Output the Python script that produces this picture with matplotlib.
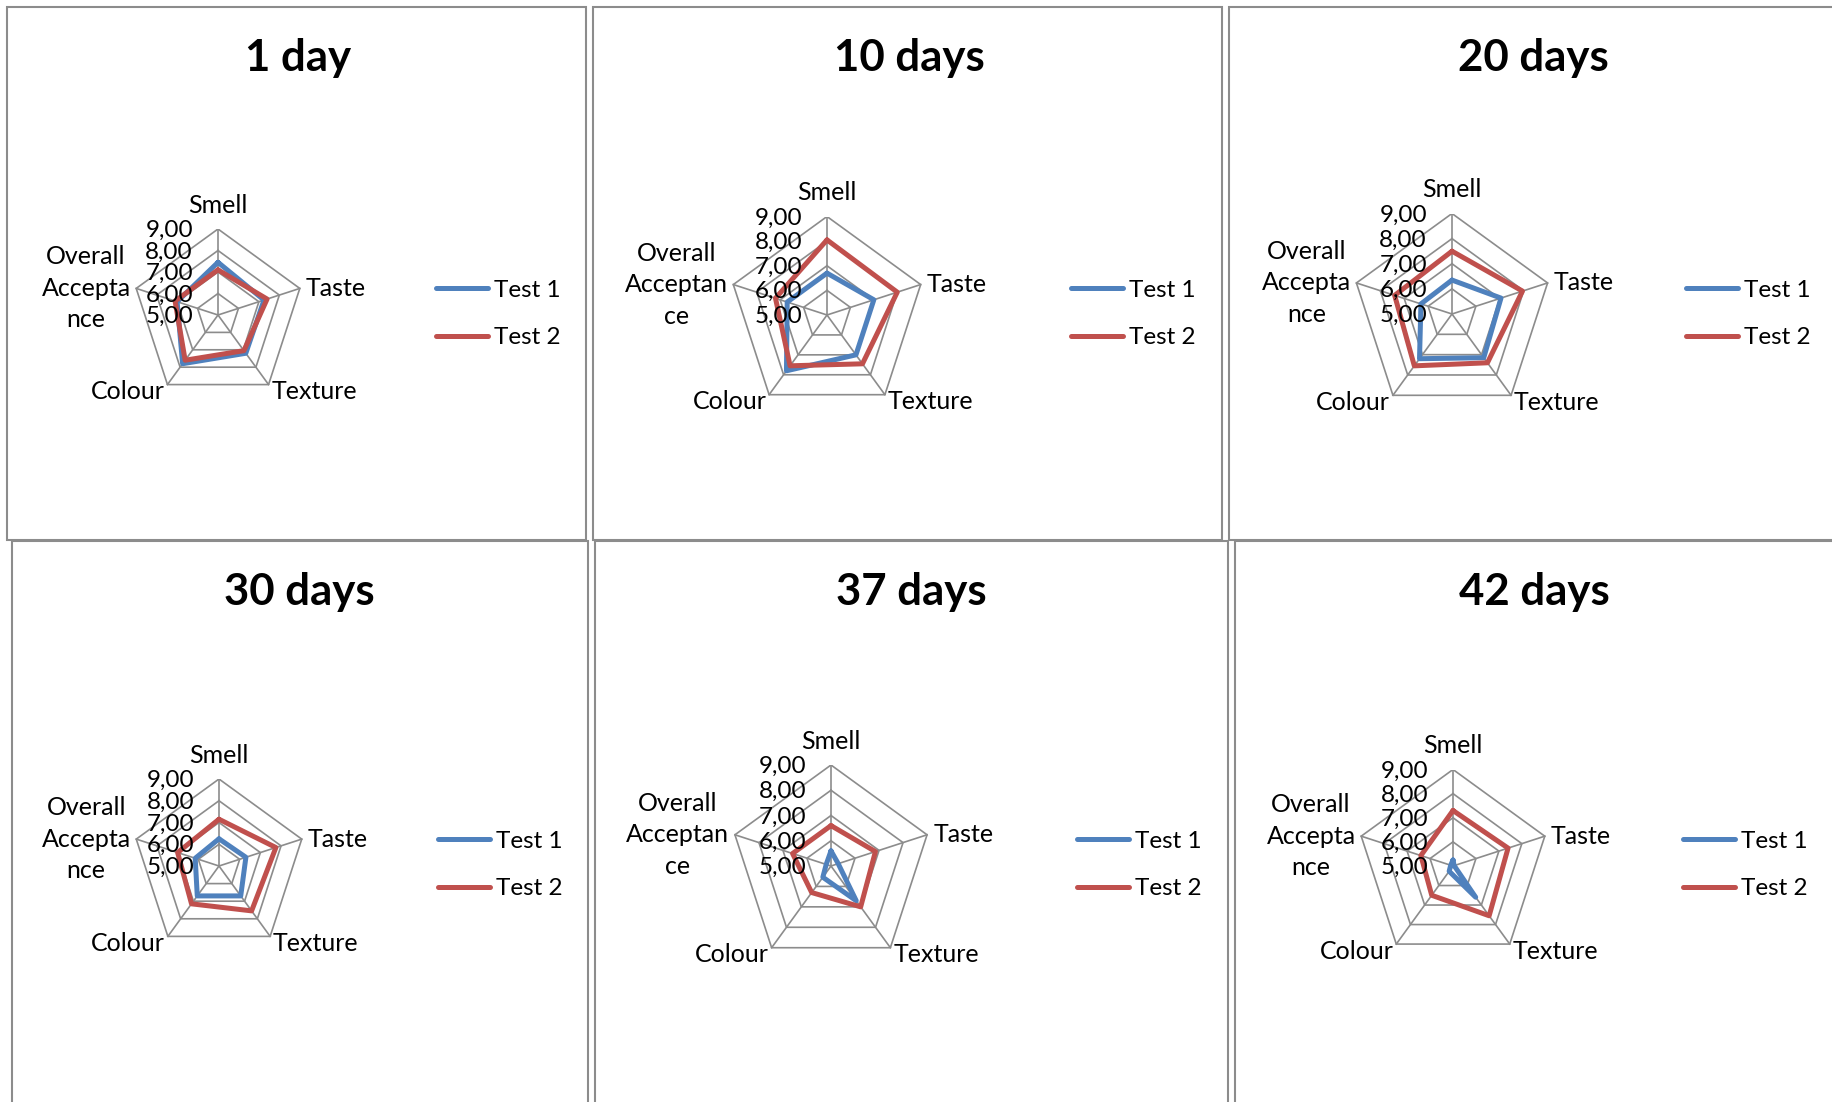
import matplotlib
matplotlib.use("Agg")
import matplotlib.pyplot as plt
from matplotlib.patches import Rectangle
import numpy as np

plt.rcParams['font.family'] = ['Lato', 'DejaVu Sans']

# sensory scores per storage time (scale 5..9)
attributes = ["Smell", "Taste", "Texture", "Colour", "Overall Acceptance"]
titles = ["1 day", "10 days", "20 days", "30 days", "37 days", "42 days"]
test1 = [
    [7.45, 7.25, 7.20, 7.80, 7.00],
    [6.70, 7.00, 7.00, 7.80, 6.70],
    [6.35, 7.05, 7.15, 7.20, 6.30],
    [6.25, 6.30, 6.70, 6.70, 6.15],
    [5.60, 5.30, 6.70, 5.55, 5.20],
    [5.25, 5.05, 6.60, 5.27, 5.10],
]
test2 = [
    [7.10, 7.40, 7.05, 7.60, 7.10],
    [8.05, 8.00, 7.45, 7.55, 7.20],
    [7.50, 7.95, 7.40, 7.55, 7.40],
    [7.15, 7.75, 7.55, 7.15, 7.00],
    [6.60, 6.85, 7.00, 6.30, 6.60],
    [7.30, 7.40, 7.55, 6.50, 6.40],
]
ring_values = [5, 6, 7, 8, 9]
ring_labels = ["5,00", "6,00", "7,00", "8,00", "9,00"]
# how the long category name wraps in each chart
overall_wrap = ["Overall\nAccepta\nnce", "Overall\nAcceptan\nce", "Overall\nAccepta\nnce",
                "Overall\nAccepta\nnce", "Overall\nAcceptan\nce", "Overall\nAccepta\nnce"]

W, H = 1832, 1102
BLUE = "#4F81BD"
RED = "#C0504D"
GRID = "#8C8C8C"

# pixel layout: panel boxes, radar centre/radius, title and legend positions
panels = [(7, 7, 586, 540), (593, 7, 1222, 540), (1229, 7, 1845, 540),
          (12, 541, 588, 1110), (595, 541, 1228, 1110), (1235, 541, 1845, 1110)]
centers = [(218, 315), (827, 315), (1452, 314), (219, 866), (831, 866), (1453, 866)]
radii = [86, 98.5, 100.5, 87, 101, 96.5]
title_pos = [(298, 58), (909, 58), (1533, 58), (299, 592), (911, 592), (1534, 592)]
legend_pos = [(436, 314), (1071, 314), (1686, 314), (438, 865), (1077, 865), (1683, 865)]


def fx(px):
    return px / W


def fy(py):
    return 1 - py / H


fig = plt.figure(figsize=(W / 100, H / 100), dpi=100)

for x0, y0, x1, y1 in panels:
    fig.add_artist(Rectangle((fx(x0), fy(y1)), (x1 - x0) / W, (y1 - y0) / H,
                             transform=fig.transFigure, fill=False,
                             ec=GRID, lw=1.5))

n = len(attributes)
theta = np.pi / 2 - np.arange(n) * 2 * np.pi / n
rmin = ring_values[0]
rmax = ring_values[-1]

for i in range(6):
    cx, cy = centers[i]
    R = radii[i]
    ax = fig.add_axes([fx(cx - R), fy(cy + R), 2 * R / W, 2 * R / H])
    ax.set_xlim(-(rmax - rmin), rmax - rmin)
    ax.set_ylim(-(rmax - rmin), rmax - rmin)
    ax.axis("off")

    # pentagon rings and spokes
    closed = np.append(theta, theta[0])
    for rv in ring_values[1:]:
        r = rv - rmin
        ax.plot(r * np.cos(closed), r * np.sin(closed), color=GRID, lw=1.2, zorder=1)
    for t in theta:
        ax.plot([0, (rmax - rmin) * np.cos(t)], [0, (rmax - rmin) * np.sin(t)],
                color=GRID, lw=1.2, zorder=1)

    # the two test series
    for vals, col, lab in [(test1[i], BLUE, "Test 1"), (test2[i], RED, "Test 2")]:
        r = np.array(vals + vals[:1]) - rmin
        ax.plot(r * np.cos(closed), r * np.sin(closed), color=col, lw=3.6,
                solid_capstyle="round", solid_joinstyle="round", label=lab, zorder=3)

    # value labels along the Smell axis
    for rv, txt in zip(ring_values, ring_labels):
        ax.annotate(txt, xy=(0, rv - rmin), xytext=(-18, -1), textcoords="offset points",
                    ha="right", va="center", fontsize=17.5, annotation_clip=False, zorder=4)

    # category labels at the outer vertices
    names = attributes[:4] + [overall_wrap[i]]
    offsets = [(0, 17), (4.5, 0), (2, -5), (-2, -5), (-4, 0)]
    aligns = [("center", "center"), ("left", "center"), ("left", "center"),
              ("right", "center"), ("right", "center")]
    rr = rmax - rmin
    for k in range(n):
        ax.annotate(names[k], xy=(rr * np.cos(theta[k]), rr * np.sin(theta[k])),
                    xytext=offsets[k], textcoords="offset points",
                    ha=aligns[k][0], va=aligns[k][1], fontsize=18,
                    multialignment="center", linespacing=1.45, annotation_clip=False)

    fig.text(fx(title_pos[i][0]), fy(title_pos[i][1]), titles[i], ha="center",
             va="center", fontsize=31.5, fontweight="bold")

    lx, ly = legend_pos[i]
    ax.legend(loc="center left", bbox_to_anchor=(fx(lx), fy(ly)),
              bbox_transform=fig.transFigure, frameon=False, fontsize=17.5,
              handlelength=2.15, handletextpad=0.25, labelspacing=1.08,
              borderpad=0, borderaxespad=0)

fig.savefig("out.png", dpi=100, facecolor="white")
